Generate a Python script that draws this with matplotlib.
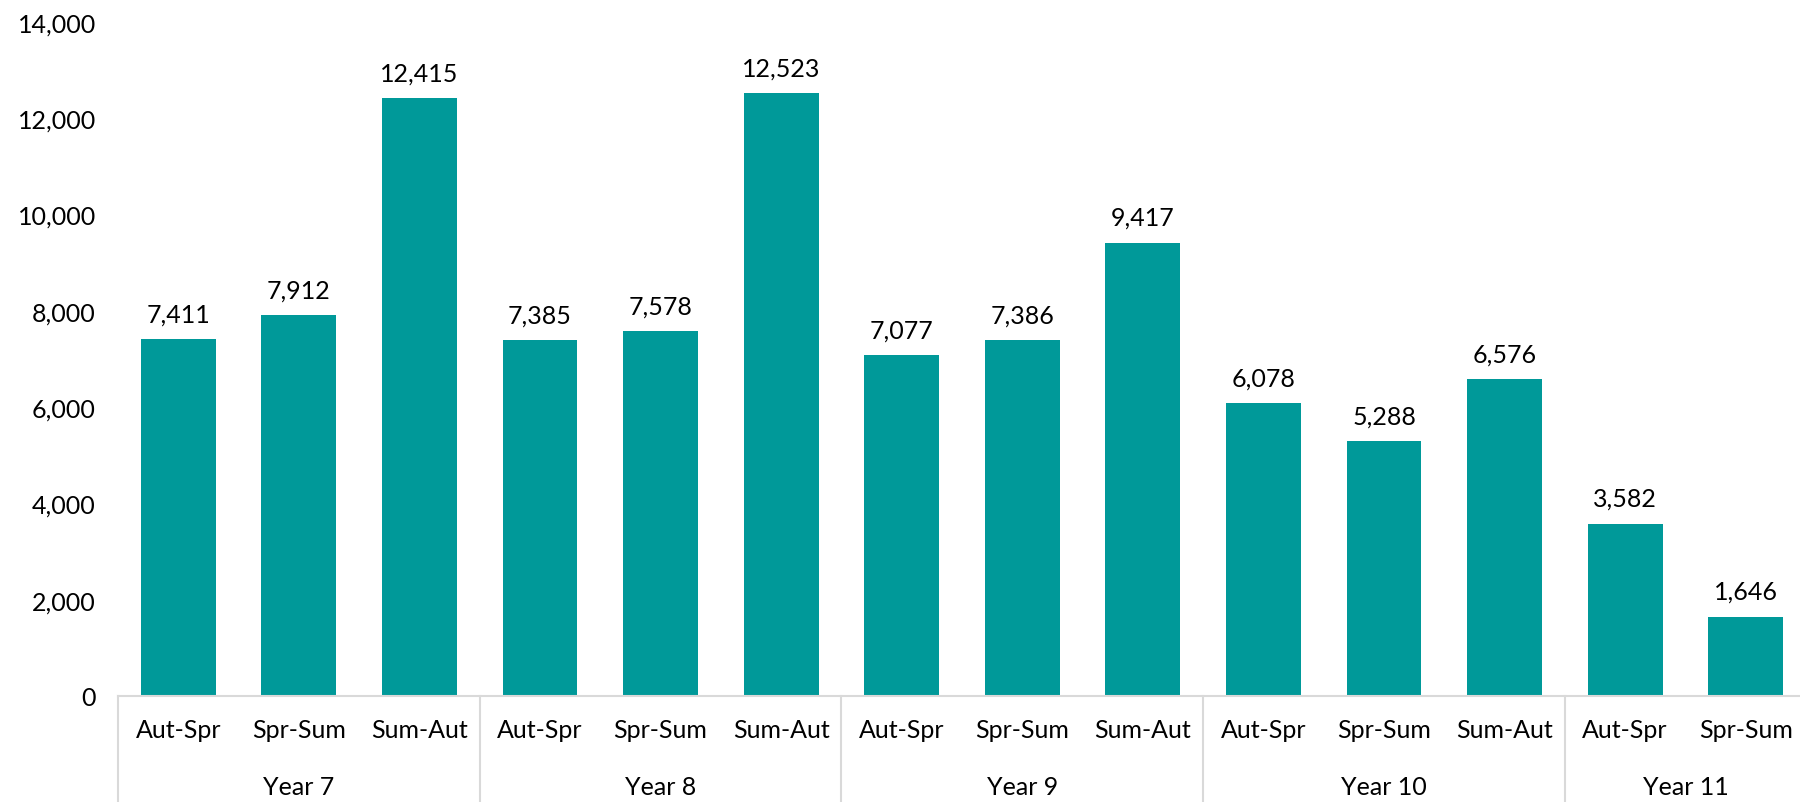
import matplotlib
matplotlib.use("Agg")
import matplotlib.pyplot as plt
from matplotlib.lines import Line2D
import matplotlib.transforms as mtransforms

plt.rcParams['font.family'] = ['Lato', 'DejaVu Sans']

groups = ["Year 7", "Year 8", "Year 9", "Year 10", "Year 11"]
categories = [
    ["Aut-Spr", "Spr-Sum", "Sum-Aut"],
    ["Aut-Spr", "Spr-Sum", "Sum-Aut"],
    ["Aut-Spr", "Spr-Sum", "Sum-Aut"],
    ["Aut-Spr", "Spr-Sum", "Sum-Aut"],
    ["Aut-Spr", "Spr-Sum"],
]
values = [7411, 7912, 12415, 7385, 7578, 12523, 7077, 7386, 9417,
          6078, 5288, 6576, 3582, 1646]
yticks = [0, 2000, 4000, 6000, 8000, 10000, 12000, 14000]

bar_color = "#009999"
axis_color = "#d9d9d9"
FS = 18

fig = plt.figure(figsize=(18, 8.03), dpi=100)
ax = fig.add_axes([118/1800, 1 - 697/803, (1806 - 118)/1800, (697 - 23)/803])

labels = [c for grp in categories for c in grp]
x = list(range(len(values)))
ax.bar(x, values, width=0.62, color=bar_color, zorder=2)

for xi, v in zip(x, values):
    ax.annotate(f"{v:,}", (xi, v), xytext=(0, 10), textcoords="offset points",
                ha="center", va="bottom", fontsize=FS, color="#000000")

ax.set_xlim(-0.5, len(values) - 0.5)
ax.set_ylim(0, 14000)
ax.set_yticks(yticks)
ax.set_yticklabels([f"{t:,}" for t in yticks], fontsize=FS)
ax.tick_params(axis="y", length=0, pad=16)

ax.set_xticks(x)
ax.set_xticklabels(labels, fontsize=FS)
ax.tick_params(axis="x", length=0, pad=16)

for s in ["top", "right", "left"]:
    ax.spines[s].set_visible(False)
ax.spines["bottom"].set_color(axis_color)
ax.spines["bottom"].set_linewidth(1.5)

# group separators and labels
ax_h_px = 697 - 23
depth = (803 - 697) / ax_h_px
trans = mtransforms.blended_transform_factory(ax.transData, ax.transAxes)
start = 0
bounds = [-0.5]
for g, cats in zip(groups, categories):
    n = len(cats)
    center = start + (n - 1) / 2
    ax.text(center, -(788 - 697) / ax_h_px, g, transform=trans, ha="center",
            va="center", fontsize=FS, color="#000000")
    start += n
    bounds.append(start - 0.5)
for b in bounds:
    ax.add_line(Line2D([b, b], [0, -depth - 0.05], transform=trans,
                       color=axis_color, linewidth=1.5, clip_on=False))

fig.savefig("out.png", dpi=100)
